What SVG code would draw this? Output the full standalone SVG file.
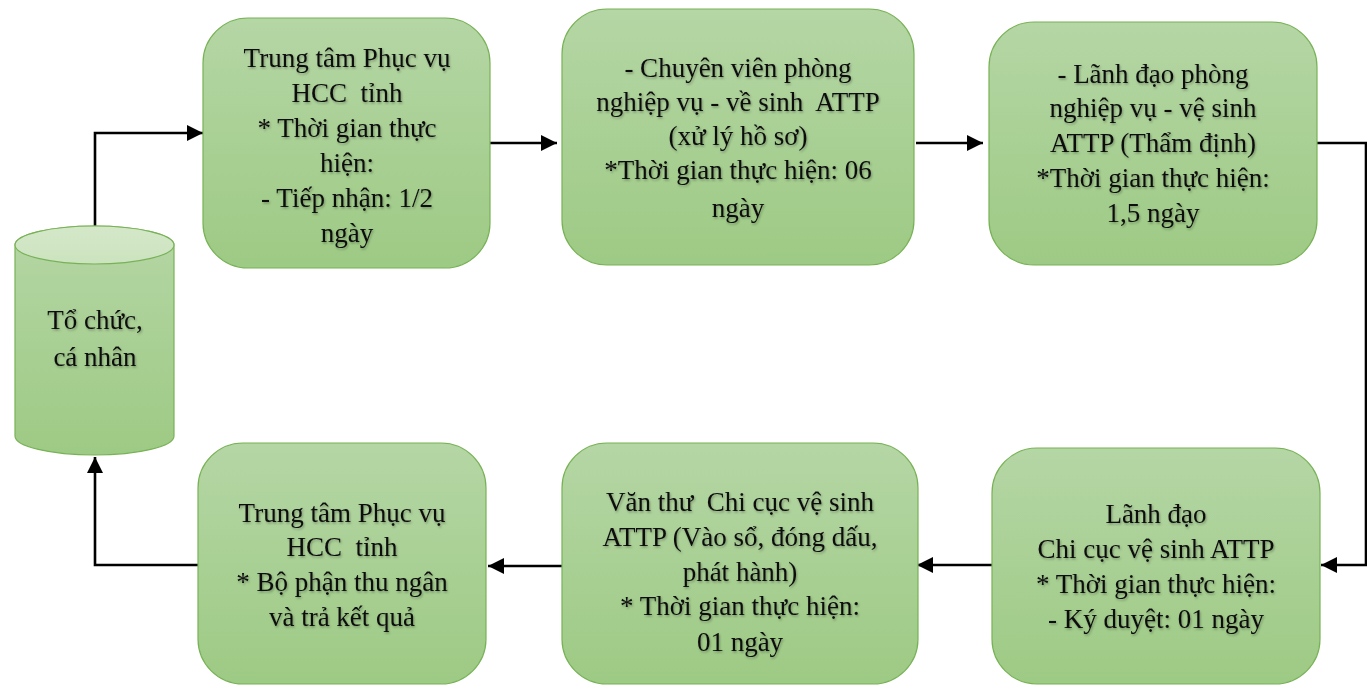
<svg xmlns="http://www.w3.org/2000/svg" width="1367" height="686" viewBox="0 0 1367 686">
<defs>
<linearGradient id="g" x1="0" y1="0" x2="0" y2="1">
<stop offset="0" stop-color="#b5d6a5"/>
<stop offset="1" stop-color="#9dca84"/>
</linearGradient>
<linearGradient id="gtop" x1="0" y1="0" x2="0" y2="1">
<stop offset="0" stop-color="#d4e8c9"/>
<stop offset="1" stop-color="#cce3bf"/>
</linearGradient>
<filter id="ts" x="-10%" y="-10%" width="130%" height="140%">
<feDropShadow dx="1" dy="1.5" stdDeviation="0.8" flood-color="#000" flood-opacity="0.3"/>
</filter>
<marker id="ah" viewBox="0 0 16 16" refX="16" refY="8" markerWidth="16" markerHeight="16" markerUnits="userSpaceOnUse" orient="auto">
<path d="M0,0 L16,8 L0,16 Z" fill="#000"/>
</marker>
</defs>
<style>
.box{fill:url(#g);stroke:#78b256;stroke-width:1.2}
.t{font-family:"Liberation Serif","Times New Roman",serif;font-size:27px;fill:#111;text-anchor:middle;filter:url(#ts);white-space:pre}
.c{fill:none;stroke:#000;stroke-width:2.6;marker-end:url(#ah)}
</style>
<rect width="1367" height="686" fill="#fff"/>
<g id="connectors">
<path class="c" d="M95,226 V133 H203"/>
<path class="c" d="M490,143 H557"/>
<path class="c" d="M916,143 H983"/>
<path class="c" d="M1317,143 H1366 V565 H1321"/>
<path class="c" d="M992,565 H917"/>
<path class="c" d="M562,566 H488"/>
<path class="c" d="M198,565 H95 V457"/>
</g>
<g id="n0">
<path class="box" d="M15,245 V436 A79.5,19 0 0 0 174,436 V245 A79.5,19 0 0 0 15,245 Z"/>
<ellipse cx="94.5" cy="245" rx="79.5" ry="19" fill="url(#gtop)" stroke="#78b256" stroke-width="1.2"/>
<text class="t" x="95" y="329">Tổ chức,</text>
<text class="t" x="95" y="366">cá nhân</text>
</g>
<g id="n1">
<rect class="box" x="203" y="18" width="287" height="250" rx="45"/>
<text class="t" x="347" y="67">Trung tâm Phục vụ</text>
<text class="t" x="347" y="102">HCC  tỉnh</text>
<text class="t" x="347" y="137">* Thời gian thực</text>
<text class="t" x="347" y="172">hiện:</text>
<text class="t" x="347" y="207">- Tiếp nhận: 1/2</text>
<text class="t" x="347" y="242">ngày</text>
</g>
<g id="n2">
<rect class="box" x="562" y="9" width="352" height="256" rx="45"/>
<text class="t" x="738" y="77">- Chuyên viên phòng</text>
<text class="t" x="738" y="111">nghiệp vụ - về sinh  ATTP</text>
<text class="t" x="738" y="145">(xử lý hồ sơ)</text>
<text class="t" x="738" y="179">*Thời gian thực hiện: 06</text>
<text class="t" x="738" y="217">ngày</text>
</g>
<g id="n3">
<rect class="box" x="989" y="22" width="328" height="243" rx="45"/>
<text class="t" x="1153" y="83">- Lãnh đạo phòng</text>
<text class="t" x="1153" y="117">nghiệp vụ - vệ sinh</text>
<text class="t" x="1153" y="152">ATTP (Thẩm định)</text>
<text class="t" x="1153" y="187">*Thời gian thực hiện:</text>
<text class="t" x="1153" y="222">1,5 ngày</text>
</g>
<g id="n6">
<rect class="box" x="992" y="448" width="328" height="236" rx="45"/>
<text class="t" x="1156" y="523">Lãnh đạo</text>
<text class="t" x="1156" y="558">Chi cục vệ sinh ATTP</text>
<text class="t" x="1156" y="593">* Thời gian thực hiện:</text>
<text class="t" x="1156" y="628">- Ký duyệt: 01 ngày</text>
</g>
<g id="n5">
<rect class="box" x="562" y="443" width="356" height="241" rx="45"/>
<text class="t" x="740" y="511">Văn thư  Chi cục vệ sinh</text>
<text class="t" x="740" y="546">ATTP (Vào sổ, đóng dấu,</text>
<text class="t" x="740" y="581">phát hành)</text>
<text class="t" x="740" y="615">* Thời gian thực hiện:</text>
<text class="t" x="740" y="651">01 ngày</text>
</g>
<g id="n4">
<rect class="box" x="198" y="443" width="288" height="241" rx="45"/>
<text class="t" x="342" y="522">Trung tâm Phục vụ</text>
<text class="t" x="342" y="556">HCC  tỉnh</text>
<text class="t" x="342" y="591">* Bộ phận thu ngân</text>
<text class="t" x="342" y="626">và trả kết quả</text>
</g>
</svg>
